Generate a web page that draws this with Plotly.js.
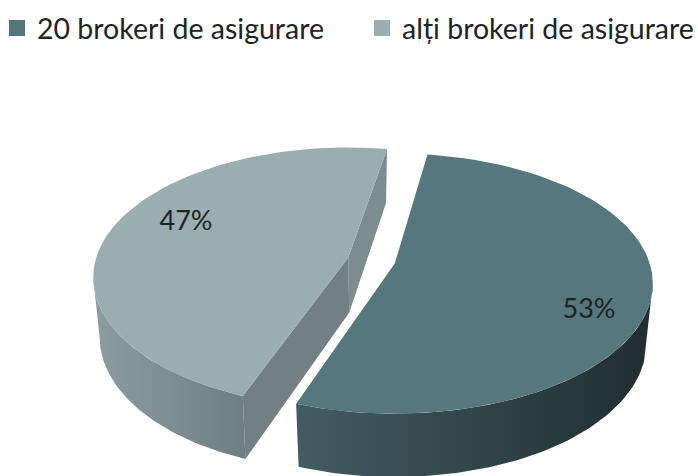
<!DOCTYPE html>
<html><head><meta charset="utf-8">
<script src="https://cdn.plot.ly/plotly-3.0.1.min.js"></script>
<style>html,body{margin:0;padding:0;background:#fff}#c{width:698px;height:476px}</style>
</head><body><div id="c"></div>
<script>
var categories = ["20 brokeri de asigurare", "alți brokeri de asigurare"];
var values = [53, 47];
var labels = ["53%", "47%"];
var topColors = ["#56777e", "#9aaeb2"];
var legendColors = ["#55757c", "#9bafb3"];
var wallColors = [["#425d62", "#202d31"], ["#8c9da1", "#6f7e82"]];
var cutColors = ["#728085", "#7b8d91"];
var labelPos = [[589, 311], [186, 223]];

var startAngle = 9, pull = 24, cx = 371.5, cy = 260.5;
var radii = [255, 252], rotate = [-0.5, 1.2];
var A = 127, K = 0.154, silhouette = Math.asin(K) * 180 / Math.PI;
var total = values.reduce(function (s, v) { return s + v; }, 0);
var rad = Math.PI / 180;

function apexOf(a0, a1, R) {
  var m = (a0 + a1) / 2 * rad;
  return [cx + pull * Math.sin(m), cy - pull * 0.5 * Math.cos(m), R];
}
function rimTop(apex, th) {
  var u = Math.sin(th * rad), v = -Math.cos(th * rad), w = 1 - K * v;
  return [apex[0] + apex[2] * u / w, apex[1] + A * v / w];
}
function rimBot(apex, th) {
  var u = Math.sin(th * rad), v = -Math.cos(th * rad), w = 1 - K * v;
  return [apex[0] + 0.975 * apex[2] * u / w, apex[1] + A * v / w + 58.7 + 4.7 * v];
}
function arc(fn, apex, a, b) {
  var pts = [], n = 80;
  for (var i = 0; i <= n; i++) pts.push(fn(apex, a + (b - a) * i / n));
  return pts;
}
function poly(pts, color, grad) {
  var t = {
    x: pts.map(function (p) { return p[0]; }), y: pts.map(function (p) { return p[1]; }),
    mode: "lines", fill: "toself", line: { width: 0, color: color }, fillcolor: color,
    showlegend: false, hoverinfo: "skip"
  };
  if (grad) {
    t.fillgradient = { type: "horizontal", colorscale: [[0, grad[0]], [1, grad[1]]] };
  }
  return t;
}

var a0 = startAngle, a1 = a0 + values[0] / total * 360, a2 = a1 + values[1] / total * 360;
var apR = apexOf(a0, a1, radii[0]), apL = apexOf(a1, a2, radii[1]);
var apLb = [apL[0] + 1, apL[1] + 55];
var traces = [];

// left slice: cut faces, outer wall, top
var l0 = a1 + rotate[1], l1 = a2 + rotate[1];
var lBack = rimTop(apL, l1), lBackB = rimBot(apL, l1), lFront = rimTop(apL, l0), lFrontB = rimBot(apL, l0);
traces.push(poly([lBack, lBackB, apLb, apL, lBack], cutColors[1]));
traces.push(poly([apL, apLb, lFrontB, lFront, apL], cutColors[0]));
var wallAng = 270 - silhouette;
traces.push(poly(arc(rimTop, apL, wallAng, l0).concat(arc(rimBot, apL, l0, wallAng)), wallColors[1][0], wallColors[1]));
traces.push(poly([apL].concat(arc(rimTop, apL, l0, l1)).concat([apL]), topColors[1]));

// right slice: outer wall, top
var r0 = a0 + rotate[0], r1 = a1 + rotate[0];
var wallAngR = 90 + silhouette;
traces.push(poly(arc(rimTop, apR, r1, wallAngR).concat(arc(rimBot, apR, wallAngR, r1)), wallColors[0][0], wallColors[0]));
traces.push(poly([apR].concat(arc(rimTop, apR, r0, r1)).concat([apR]), topColors[0]));

// percentage labels
traces.push({
  x: labelPos.map(function (p) { return p[0]; }), y: labelPos.map(function (p) { return p[1]; }),
  text: labels, mode: "text", textposition: "middle center",
  textfont: { family: "Lato, sans-serif", size: 27, color: "#1c2426" },
  showlegend: false, hoverinfo: "skip"
});

// legend entries, one legend each so they sit on one row at the reference spacing
var legendIds = ["legend", "legend2"];
categories.forEach(function (c, i) {
  traces.push({
    x: [-100], y: [-100], name: c, mode: "markers", legend: legendIds[i],
    marker: { symbol: "square", size: 16, color: legendColors[i] }, hoverinfo: "skip"
  });
});
function legendAt(px) {
  return {
    orientation: "h", x: px / 698, y: 1 - 3 / 476, xanchor: "left", yanchor: "top",
    itemsizing: "trace",
    font: { family: "Lato, sans-serif", size: 28.5, color: "#1c2426" },
    bgcolor: "rgba(0,0,0,0)", itemclick: false, itemdoubleclick: false
  };
}

var hidden = { visible: false, fixedrange: true };
Plotly.newPlot("c", traces, {
  width: 698, height: 476, margin: { l: 0, r: 0, t: 0, b: 0, autoexpand: false },
  paper_bgcolor: "#fff", plot_bgcolor: "#fff", hovermode: false,
  xaxis: Object.assign({ range: [0, 698] }, hidden),
  yaxis: Object.assign({ range: [476, 0] }, hidden),
  legend: legendAt(-3),
  legend2: legendAt(362)
}, { displayModeBar: false, staticPlot: true });
</script></body></html>
